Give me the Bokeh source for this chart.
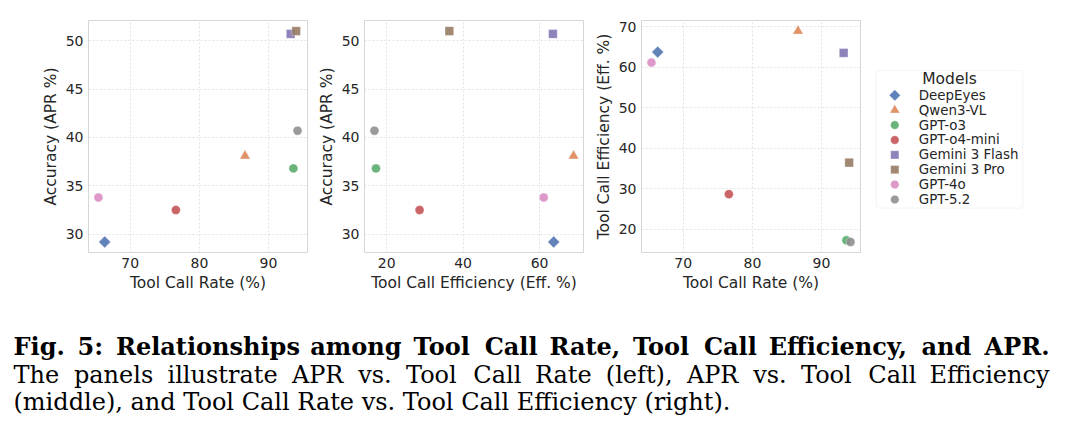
from bokeh.plotting import figure
from bokeh.layouts import row, column
from bokeh.models import Range1d, FixedTicker, BoxAnnotation
from bokeh.core.properties import value
from bokeh.embed import file_html
from bokeh.resources import INLINE

# ---------------- data ----------------
models = ["DeepEyes", "Qwen3-VL", "GPT-o3", "GPT-o4-mini",
          "Gemini 3 Flash", "Gemini 3 Pro", "GPT-4o", "GPT-5.2"]
tool_call_rate = [66.3, 86.6, 93.6, 76.6, 93.2, 94.0, 65.4, 94.2]
apr = [29.2, 38.1, 36.8, 32.5, 50.7, 51.0, 33.8, 40.7]
tool_call_eff = [63.7, 68.9, 17.2, 28.6, 63.5, 36.4, 61.1, 16.8]

rate_ticks = [70, 80, 90]
apr_ticks = [30, 35, 40, 45, 50]
eff_ticks_x = [20, 40, 60]
eff_ticks_y = [20, 30, 40, 50, 60, 70]

x_label_rate = "Tool Call Rate (%)"
x_label_eff = "Tool Call Efficiency (Eff. %)"
y_label_apr = "Accuracy (APR %)"
y_label_eff = "Tool Call Efficiency (Eff. %)"
legend_title = "Models"

caption_bold = "Fig. 5: Relationships among Tool Call Rate, Tool Call Efficiency, and APR."
caption_2 = "The panels illustrate APR vs. Tool Call Rate (left), APR vs. Tool Call Efficiency"
caption_3 = "(middle), and Tool Call Rate vs. Tool Call Efficiency (right)."

# ---------------- styles ----------------
colors = ["#4C72B0", "#DD8452", "#55A868", "#C44E52",
          "#8172B3", "#937860", "#DA8BC3", "#8C8C8C"]
markers = ["square", "triangle", "circle", "circle",
           "square", "square", "circle", "circle"]
angles = [0.785398, 0, 0, 0, 0, 0, 0, 0]
sizes = [8.4, 10.5, 9, 9, 8.7, 8.7, 9, 9]
FONT = "DejaVu Sans"
TXT = "#262626"
H = 305


def padded(vals):
    lo, hi = min(vals), max(vals)
    pad = 0.05 * (hi - lo)
    return Range1d(lo - pad, hi + pad)


def panel(xs, ys, xticks, yticks, xlabel, ylabel, width, left):
    p = figure(width=width, height=H, x_range=padded(xs), y_range=padded(ys),
               output_backend="svg", toolbar_location=None,
               min_border_left=left, min_border_right=2,
               min_border_top=20, min_border_bottom=53)
    p.background_fill_color = "white"
    p.border_fill_color = "white"
    p.outline_line_color = "#d6d6d6"
    p.outline_line_width = 1
    p.xaxis.ticker = FixedTicker(ticks=xticks)
    p.yaxis.ticker = FixedTicker(ticks=yticks)
    p.xaxis.axis_label = xlabel
    p.yaxis.axis_label = ylabel
    for ax in (p.xaxis[0], p.yaxis[0]):
        ax.axis_line_color = None
        ax.major_tick_line_color = None
        ax.minor_tick_line_color = None
        ax.major_tick_out = 0
        ax.major_tick_in = 0
        ax.minor_tick_out = 0
        ax.minor_tick_in = 0
        ax.major_label_text_font = FONT
        ax.major_label_text_font_size = "14px"
        ax.major_label_text_color = TXT
        ax.axis_label_text_font = FONT
        ax.axis_label_text_font_size = "15.5px"
        ax.axis_label_text_font_style = "normal"
        ax.axis_label_text_color = TXT
    p.xaxis[0].major_label_standoff = 5
    p.xaxis[0].axis_label_standoff = 3
    p.yaxis[0].major_label_standoff = 5
    p.yaxis[0].axis_label_standoff = 3
    for g in (p.xgrid[0], p.ygrid[0]):
        g.grid_line_color = "#dcdcdc"
        g.grid_line_dash = "2 2"
        g.grid_line_width = 0.8
    for i in range(len(models)):
        p.scatter(x=[xs[i]], y=[ys[i]], marker=markers[i], size=sizes[i],
                  angle=angles[i], fill_color=colors[i], fill_alpha=0.88,
                  line_color="white", line_alpha=0.6, line_width=0.6)
    return p


p1 = panel(tool_call_rate, apr, rate_ticks, apr_ticks, x_label_rate, y_label_apr, 309, 88)
p2 = panel(tool_call_eff, apr, eff_ticks_x, apr_ticks, x_label_eff, y_label_apr, 276, 55)
p3 = panel(tool_call_rate, tool_call_eff, rate_ticks, eff_ticks_y, x_label_rate, y_label_eff, 277, 56)

# ---------------- legend panel ----------------
LW = 1069 - 309 - 276 - 277
lf = figure(width=LW, height=H, x_range=Range1d(0, LW), y_range=Range1d(H, 0),
            output_backend="svg", toolbar_location=None,
            min_border=0, min_border_left=0, min_border_right=0,
            min_border_top=0, min_border_bottom=0)
lf.axis.visible = False
lf.grid.visible = False
lf.outline_line_color = None
lf.background_fill_color = "white"
lf.border_fill_color = "white"
box_l, box_r, box_t, box_b = 13.7, 160.3, 65.7, 246.7
lf.add_layout(BoxAnnotation(left=box_l, right=box_r, top=box_t, bottom=box_b,
                            fill_color="white", fill_alpha=1, level="underlay",
                            line_color="#dcdcdc", line_width=1, border_radius=3))
lf.text(x=[(box_l + box_r) / 2], y=[76.7], text=[legend_title],
        text_font=value(FONT), text_font_size="15.5px", text_color=TXT,
        text_align="center", text_baseline="middle")
y0, step = 98.3, 19.57
for i, name in enumerate(models):
    yy = y0 + i * step
    lf.scatter(x=[32.3], y=[yy], marker=markers[i], size=sizes[i] * 0.95,
               angle=-angles[i], fill_color=colors[i], fill_alpha=0.88,
               line_color="white", line_alpha=0.6, line_width=0.6)
    lf.text(x=[56.3], y=[yy], text=[name], text_font=value(FONT),
            text_font_size="13.4px", text_color=TXT,
            text_align="left", text_baseline="middle")

# ---------------- caption ----------------
CH = 435 - H
cap = figure(width=1069, height=CH, x_range=Range1d(0, 1069), y_range=Range1d(CH, 0),
             output_backend="svg", toolbar_location=None,
             min_border=0, min_border_left=0, min_border_right=0,
             min_border_top=0, min_border_bottom=0)
cap.axis.visible = False
cap.grid.visible = False
cap.outline_line_color = None
cap.background_fill_color = "white"
cap.border_fill_color = "white"
SERIF = "DejaVu Serif"
LEFT, RIGHT = 13, 1049
FS = 24

# approximate DejaVu Serif advance widths (em), used only to spread words
WID = {" ": .318, "a": .596, "b": .640, "c": .560, "d": .640, "e": .592, "f": .370,
       "g": .640, "h": .644, "i": .320, "l": .320, "m": .948, "n": .644, "o": .602,
       "p": .640, "r": .478, "s": .513, "t": .402, "u": .644, "v": .565, "y": .565,
       "A": .722, "C": .734, "E": .683, "F": .664, "P": .676, "R": .770, "T": .685,
       ".": .318, ",": .318, ":": .337, "(": .390, ")": .390, "5": .636}


def wwidth(w, fs, bold):
    k = 1.1 if bold else 1.0
    return sum(WID.get(ch, .6) for ch in w) * fs * k


def justified(line, yb, fs, bold):
    words = line.split(" ")
    widths = [wwidth(w, fs, bold) for w in words]
    gap = (RIGHT - LEFT - sum(widths)) / (len(words) - 1)
    xs, x = [], LEFT
    for w in widths:
        xs.append(x)
        x += w + gap
    cap.text(x=xs[:-1], y=[yb] * (len(words) - 1), text=words[:-1], text_font=value(SERIF),
             text_font_size=f"{fs}px", text_font_style="bold" if bold else "normal",
             text_color="black", text_align="left", text_baseline="alphabetic")
    cap.text(x=[RIGHT], y=[yb], text=words[-1:], text_font=value(SERIF),
             text_font_size=f"{fs}px", text_font_style="bold" if bold else "normal",
             text_color="black", text_align="right", text_baseline="alphabetic")


justified(caption_bold, 41, FS, True)
justified(caption_2, 69, FS, False)
cap.text(x=[LEFT], y=[96], text=[caption_3], text_font=value(SERIF),
         text_font_size=f"{FS}px", text_color="black",
         text_align="left", text_baseline="alphabetic")

layout = column(row(p1, p2, p3, lf, spacing=0), cap, spacing=0)
open("out.html", "w").write(file_html(layout, INLINE))
